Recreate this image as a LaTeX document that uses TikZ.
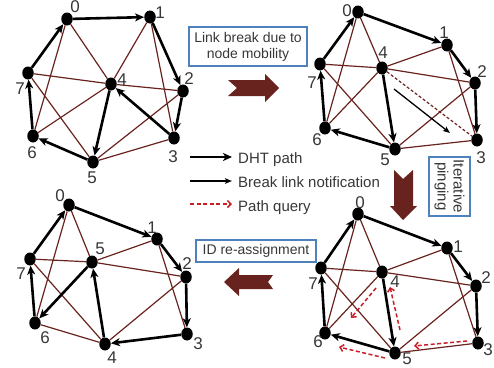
\documentclass[tikz,border=0pt]{standalone}
\usepackage{fontspec}
\setmainfont{Liberation Sans}
\usetikzlibrary{arrows.meta,shapes.geometric}
\definecolor{brn}{RGB}{105,35,30}
\definecolor{qred}{RGB}{200,30,40}
\definecolor{txtg}{RGB}{55,55,55}
\definecolor{boxb}{RGB}{79,129,189}
\tikzset{
  dot/.style={ellipse, fill=black, inner sep=0pt, minimum width=11.5pt, minimum height=13pt},
  lbl/.style={inner sep=0pt, text=txtg, font=\fontsize{17}{17}\selectfont},
  dht/.style={line width=2.6pt, -{Stealth[length=9pt,width=8pt,inset=2.5pt]}},
  link/.style={draw=brn, line width=1.2pt},
  brklink/.style={draw=brn, line width=1.2pt, dash pattern=on 3pt off 2pt},
  brk/.style={line width=1.3pt, -{Stealth[length=7pt,width=5.5pt,inset=1.5pt]}},
  qry/.style={draw=qred, line width=1.5pt, dash pattern=on 4pt off 2.5pt, -{Straight Barb[length=3.5pt,width=7pt]}},
  infobox/.style={draw=boxb, line width=1.1pt, text=txtg, inner sep=0pt, align=center, font=\fontsize{14}{16}\selectfont},
  legtxt/.style={inner sep=0pt, anchor=base west, text=txtg, font=\fontsize{15}{15}\selectfont},
  bigarrow/.style={fill=brn},
}
\newcommand\gnode[4]{\node[dot] (#1) at (#2) {}; \node[lbl] (#1l) at (#3) {#4};}
\begin{document}
\begin{tikzpicture}[x=1pt,y=-1pt]
\useasboundingbox (0,0) rectangle (494,367);

% ---------- top-left graph ----------
\gnode{a0}{67,19}{75,7}{0}
\gnode{a1}{150,17}{160,13}{1}
\gnode{a2}{183,91}{189,79}{2}
\gnode{a3}{174,138}{173,157}{3}
\gnode{a4}{111,84}{122,80}{4}
\gnode{a5}{93,162}{92,178}{5}
\gnode{a6}{33,136}{32,153}{6}
\gnode{a7}{28,73}{20,89}{7}
\foreach \u/\v in {a0/a6,a0/a4,a1/a4,a1/a3,a7/a4,a4/a2,a7/a5,a6/a4,a5/a2,a5/a3}
  \draw[link] (\u) -- (\v);
\foreach \u/\v in {a0/a1,a1/a2,a2/a3,a3/a4,a4/a5,a5/a6,a6/a7,a7/a0}
  \draw[dht] (\u) -- (\v);

% ---------- top-right graph ----------
\gnode{b0}{358,12}{347,11}{0}
\gnode{b1}{447,45}{444,33}{1}
\gnode{b2}{475,83}{482,72}{2}
\gnode{b3}{477,140}{481,158}{3}
\gnode{b4}{382,68}{383,53}{4}
\gnode{b5}{395,149}{385,160}{5}
\gnode{b6}{325,128}{317,140}{6}
\gnode{b7}{320,64}{312,83}{7}
\foreach \u/\v in {b0/b6,b0/b4,b1/b4,b1/b3,b7/b4,b4/b2,b7/b5,b6/b4,b5/b2,b5/b3}
  \draw[link] (\u) -- (\v);
\draw[brklink] (b4) -- (b3);
\foreach \u/\v in {b0/b1,b1/b2,b2/b3,b4/b5,b5/b6,b6/b7,b7/b0}
  \draw[dht] (\u) -- (\v);
\coordinate (n1) at (394,89);
\coordinate (n2) at (450,133);
\draw[brk] (n1) -- (n2);

% ---------- bottom-right graph ----------
\gnode{c0}{358,214}{360,203}{0}
\gnode{c1}{447,248}{458,247}{1}
\gnode{c2}{476,286}{486,278}{2}
\gnode{c3}{478,343}{488,350}{3}
\gnode{c4}{382,272}{395,282}{4}
\gnode{c5}{395,353}{407,359}{5}
\gnode{c6}{325,333}{318,342}{6}
\gnode{c7}{321,268}{313,284}{7}
\foreach \u/\v in {c0/c6,c0/c4,c1/c4,c1/c3,c7/c4,c4/c2,c7/c5,c6/c4,c5/c2,c5/c3}
  \draw[link] (\u) -- (\v);
\foreach \u/\v in {c0/c1,c1/c2,c2/c3,c4/c5,c5/c6,c6/c7,c7/c0}
  \draw[dht] (\u) -- (\v);
\coordinate (q1s) at (376,288); \coordinate (q1e) at (351,318);
\coordinate (q2s) at (400,330); \coordinate (q2e) at (390,287);
\coordinate (q3s) at (467,341); \coordinate (q3e) at (414,346);
\coordinate (q4s) at (385,358); \coordinate (q4e) at (339,347);
\draw[qry] (q1s) -- (q1e);
\draw[qry] (q2s) -- (q2e);
\draw[qry] (q3s) -- (q3e);
\draw[qry] (q4s) -- (q4e);

% ---------- bottom-left graph ----------
\gnode{d0}{69,205}{60,196}{0}
\gnode{d1}{157,239}{152,228}{1}
\gnode{d2}{186,277}{187,264}{2}
\gnode{d3}{187,334}{198,344}{3}
\gnode{d5}{92,262}{100,249}{5}
\gnode{d4}{105,344}{112,358}{4}
\gnode{d6}{35,323}{45,338}{6}
\gnode{d7}{30,259}{21,274}{7}
\foreach \u/\v in {d0/d6,d0/d5,d1/d5,d1/d3,d7/d5,d5/d2,d7/d4,d6/d4,d4/d2}
  \draw[link] (\u) -- (\v);
\foreach \u/\v in {d0/d1,d1/d2,d2/d3,d3/d4,d4/d5,d5/d6,d6/d7,d7/d0}
  \draw[dht] (\u) -- (\v);

% ---------- boxes ----------
\node[infobox, minimum width=118pt, minimum height=39pt] (box1) at (248,46.5) {Link break due to\\node mobility};
\node[infobox, minimum width=120pt, minimum height=22pt] (box2) at (256,251) {ID re-assignment};
\node[infobox, rotate=-90, minimum width=59pt, minimum height=41pt, font=\fontsize{15}{16}\selectfont] (box3) at (449.5,186.5) {Iterative\\pinging};

% ---------- big arrows ----------
\fill[bigarrow] (228,80) -- (265,80) -- (265,74) -- (279,88) -- (265,102) -- (265,96) -- (228,96) -- (237,88) -- cycle;
\fill[bigarrow] (394,170) -- (394,206) -- (390,206) -- (403,220) -- (417,206) -- (413,206) -- (413,170) -- (403,179) -- cycle;
\fill[bigarrow] (273,275) -- (239,275) -- (239,268) -- (224,282) -- (239,296) -- (239,289) -- (273,289) -- (268,282) -- cycle;

% ---------- legend ----------
\coordinate (l1s) at (190,157); \coordinate (l1e) at (232,157);
\coordinate (l2s) at (190,181); \coordinate (l2e) at (232,181);
\coordinate (l3s) at (190,204); \coordinate (l3e) at (232,204);
\draw[dht] (l1s) -- (l1e);
\draw[brk] (l2s) -- (l2e);
\draw[qry] (l3s) -- (l3e);
\node[legtxt] (t1) at (238,163) {DHT path};
\node[legtxt] (t2) at (238,187) {Break link notification};
\node[legtxt] (t3) at (238,211) {Path query};
\end{tikzpicture}
\end{document}
